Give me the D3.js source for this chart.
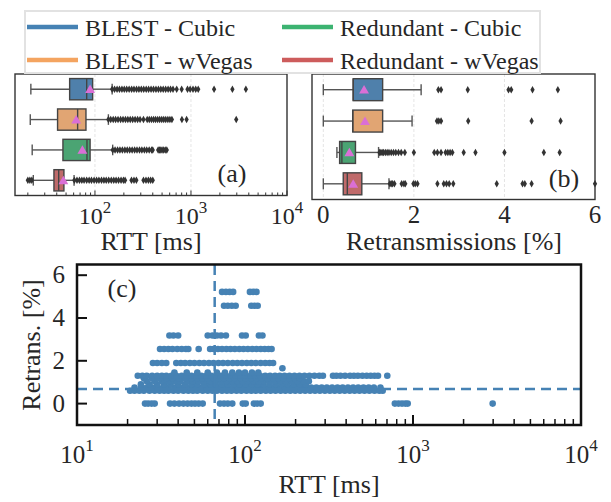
<!DOCTYPE html>
<html>
<head>
<meta charset="utf-8">
<script src="https://cdn.jsdelivr.net/npm/d3@7"></script>
<style>
body{margin:0;background:#fff}
text{font-family:"Liberation Serif","DejaVu Serif",serif;fill:#262626}
</style>
</head>
<body>
<svg id="chart" width="611" height="502"></svg>
<script>
const categories = ["BLEST - Cubic", "BLEST - wVegas", "Redundant - Cubic", "Redundant - wVegas"]
const lineColors = ["#4682b4", "#f4a460", "#3cb371", "#cd5c5c"]
const boxColors = ["#4f80ab", "#e1a573", "#4ba473", "#bf6a6a"]

// (a) RTT [ms]
const rttWhiskerLo = [21.5, 21.2, 22.2, 22.8]
const rttQ1 = [54.5, 40.8, 46.4, 37.4]
const rttMedian = [82, 66, 82.6, 41.9]
const rttQ3 = [94.6, 80.6, 89, 47.5]
const rttWhiskerHi = [151, 138, 153, 60.6]
const rttMean = [89, 63.8, 74, 46.9]
const rttOutliers = [
    [151, 160, 170, 180, 191, 202, 214, 227, 241, 255, 271, 287, 304, 322, 342, 362, 384, 407, 432, 458, 485, 514, 545, 578, 612, 650, 710, 800, 920, 980, 1050, 1120, 1190, 1740, 2700, 3730],
    [138, 146, 155, 164, 174, 185, 196, 208, 220, 233, 247, 262, 278, 295, 320, 350, 368, 388, 408, 428, 450, 472, 496, 520, 546, 574, 603, 633, 805, 900, 2960],
    [153, 162, 172, 182, 193, 205, 217, 230, 244, 259, 274, 291, 308, 327, 346, 367, 389, 400, 455, 470, 485, 500, 520, 540, 560],
    [20, 21, 22, 61, 65, 69, 73, 77, 82, 87, 92, 98, 104, 110, 117, 124, 131, 139, 148, 157, 166, 176, 187, 198, 206, 240, 255, 270, 320, 340, 360, 380, 400]
]
const rttTicks = [100, 1000, 10000]

// (b) Retransmissions [%]
const retransWhiskerLo = [0, 0, 0.30, 0]
const retransQ1 = [0.66, 0.65, 0.36, 0.44]
const retransMedian = [0.66, 0.65, 0.41, 0.53]
const retransQ3 = [1.31, 1.31, 0.71, 0.85]
const retransWhiskerHi = [2.16, 1.96, 1.22, 1.45]
const retransMean = [0.9, 0.92, 0.575, 0.66]
const retransOutliers = [
    [2.54, 2.6, 3.19, 4.09, 4.15, 4.62, 5.18],
    [2.51, 2.55, 2.6, 3.2, 4.6, 5.24],
    [1.24, 1.27, 1.3, 1.33, 1.37, 1.41, 1.45, 1.5, 1.55, 1.6, 1.66, 1.72, 1.8, 2.0, 2.45, 2.52, 2.6, 2.7, 2.75, 2.8, 2.85, 3.1, 3.36, 4.0, 4.87, 5.22],
    [1.47, 1.5, 1.53, 1.57, 1.73, 1.78, 1.81, 1.99, 2.03, 2.08, 2.52, 2.66, 2.72, 2.78, 2.87, 3.83, 4.4, 4.45, 4.6, 6.0]
]
const retransTicks = [0, 2, 4, 6]

// (c) scatter: retransmission level -> RTT values
const scatterLevels = [0, 0.6, 0.75, 0.9, 1.05, 1.18, 1.3, 1.45, 1.65, 1.9, 2.55, 3.18, 4.57, 5.22]
const scatterRtt = [
    [25.4, 26.5, 27.8, 29, 35.8, 38, 40.5, 43, 45.5, 48, 50.4, 53, 56, 71, 75, 79, 84, 97, 101, 113, 118, 124, 780, 820, 860, 900, 930, 2980],
    [20.7, 22, 23.5, 25, 27, 29, 31, 33, 35, 37.5, 40, 43, 46, 49, 52, 56, 60, 64, 68, 73, 78, 83, 89, 95, 102, 109, 116, 124, 133, 142, 152, 163, 174, 186, 199, 213, 228, 244, 261, 279, 299, 320, 342, 366, 392, 420, 449, 480, 514, 550, 590, 630, 660],
    [22, 24, 26, 28, 30, 32.5, 35, 38, 41, 44, 47.5, 51, 55, 59, 63.5, 68, 73, 79, 85, 91, 98, 105, 113, 121, 130, 140, 150, 161, 173, 186, 200, 215, 231, 248, 266, 286, 307, 330, 355, 381, 410, 440, 472, 507, 545, 585, 640],
    [24, 27, 30, 33, 36, 40, 44, 48, 52, 57, 62, 67, 73, 79, 86, 93, 101, 110, 119, 129, 140, 152, 165, 179, 195, 212, 230],
    [26, 29, 32, 35, 38, 41, 45, 49, 53, 57, 62, 67, 72, 78, 84, 90, 97, 104, 112, 120, 129, 139, 150, 162, 175, 190, 205, 222, 240],
    [25, 28, 31, 34, 37, 40.5, 44, 48, 52, 56, 60, 65, 70, 75, 81, 87, 94, 101, 109, 117, 126, 136, 147, 158, 170, 183, 197, 212],
    [23, 24.5, 26, 28, 30, 32, 34, 36.5, 39, 42, 45, 48, 51.5, 55, 59, 63, 67.5, 72, 77, 82.5, 88, 94, 101, 108, 115, 123, 132, 141, 151, 161, 172, 184, 197, 211, 226, 242, 259, 277, 291, 334, 350, 370, 394, 422, 445, 470, 500, 530, 560, 590, 619, 703],
    [38, 45, 52, 60, 68, 76, 84, 92, 100, 110, 120],
    [167],
    [28.3, 30, 32, 34, 39, 41.5, 44, 47, 50, 53.5, 57, 61, 65, 69.5, 74, 79, 84.5, 90, 96, 102.5, 109, 116, 124, 132, 140, 147],
    [31.2, 33, 35, 37, 39.5, 42, 44.5, 46, 53, 62, 65, 69, 73, 77.5, 82, 87, 92.5, 98, 104, 110.5, 117, 124, 131, 138, 144],
    [35.5, 37.5, 40, 60, 64, 68, 72, 77, 96, 101, 121, 127],
    [75, 79, 83.5, 88, 109, 114, 119],
    [73, 77, 81, 85, 107, 112, 117]
]
const scatterRefRtt = 66
const scatterRefRetrans = 0.68
const scatterXTicks = [10, 100, 1000, 10000]
const scatterYTicks = [0, 2, 4, 6]

const svg = d3.select("#chart")

function powLabel(sel, v, size, supSize, dy)
{
    let e = Math.round(Math.log10(v))
    sel.append("tspan").attr("font-size", size).text("10")
    sel.append("tspan").attr("font-size", supSize).attr("dy", dy).text(e)
}

function drawBoxPanel(x, y, lo, q1, med, q3, hi, mean, out)
{
    let g = svg.append("g")
    let h = y.bandwidth() * 0.7
    categories.forEach((c, i) => {
        let cy = y(c) + y.bandwidth() / 2
        g.append("line").attr("x1", x(lo[i])).attr("x2", x(q1[i])).attr("y1", cy).attr("y2", cy)
            .attr("stroke", "#555").attr("stroke-width", 1.4)
        g.append("line").attr("x1", x(q3[i])).attr("x2", x(hi[i])).attr("y1", cy).attr("y2", cy)
            .attr("stroke", "#555").attr("stroke-width", 1.4)
        for (const v of [lo[i], hi[i]]) {
            g.append("line").attr("x1", x(v)).attr("x2", x(v)).attr("y1", cy - h / 4).attr("y2", cy + h / 4)
                .attr("stroke", "#555").attr("stroke-width", 1.4)
        }
        g.append("rect").attr("x", x(q1[i])).attr("y", cy - h / 2)
            .attr("width", x(q3[i]) - x(q1[i])).attr("height", h)
            .attr("fill", boxColors[i]).attr("stroke", "#444").attr("stroke-width", 1.4)
        g.append("line").attr("x1", x(med[i])).attr("x2", x(med[i])).attr("y1", cy - h / 2).attr("y2", cy + h / 2)
            .attr("stroke", "#444").attr("stroke-width", 1.4)
        g.selectAll(null).data(out[i]).join("path")
            .attr("d", d3.symbol(d3.symbolDiamond, 16))
            .attr("transform", d => `translate(${x(d)},${cy})`)
            .attr("fill", "#333")
        g.append("path").attr("d", d3.symbol(d3.symbolTriangle, 42))
            .attr("transform", `translate(${x(mean[i])},${cy + 1})`)
            .attr("fill", "#da6fd6")
    })
}

// panel (a)
const xA = d3.scaleLog().domain([14.7, 10000]).range([15, 287])
const yA = d3.scaleBand().domain(categories).range([74, 195.5])
svg.append("g").selectAll("line").data(rttTicks.slice(0, 2)).join("line")
    .attr("x1", d => xA(d)).attr("x2", d => xA(d)).attr("y1", 74).attr("y2", 195.5)
    .attr("stroke", "#ddd").attr("stroke-width", 0.8).attr("stroke-dasharray", "3,2")
drawBoxPanel(xA, yA, rttWhiskerLo, rttQ1, rttMedian, rttQ3, rttWhiskerHi, rttMean, rttOutliers)
svg.append("g").selectAll("line").data(xA.ticks()).join("line")
    .attr("x1", d => xA(d)).attr("x2", d => xA(d))
    .attr("y1", 195.5).attr("y2", d => rttTicks.includes(d) ? 190.5 : 192.5)
    .attr("stroke", "#333").attr("stroke-width", 1)
svg.append("rect").attr("x", 15).attr("y", 74).attr("width", 272).attr("height", 121.5)
    .attr("fill", "none").attr("stroke", "#333").attr("stroke-width", 1.4)
svg.append("g").selectAll("text").data(rttTicks).join("text")
    .attr("x", d => xA(d)).attr("y", 224).attr("text-anchor", "middle")
    .each(function (d) { powLabel(d3.select(this), d, 24, 17, -11) })
svg.append("text").attr("x", 151).attr("y", 250).attr("text-anchor", "middle")
    .attr("font-size", 26).text("RTT [ms]")
svg.append("text").attr("x", 232).attr("y", 182).attr("text-anchor", "middle")
    .attr("font-size", 26).text("(a)")

// panel (b)
const xB = d3.scaleLinear().domain([-0.25, 6]).range([312, 595])
const yB = d3.scaleBand().domain(categories).range([74, 199.5])
svg.append("g").selectAll("line").data(retransTicks.slice(0, 3)).join("line")
    .attr("x1", d => xB(d)).attr("x2", d => xB(d)).attr("y1", 74).attr("y2", 199.5)
    .attr("stroke", "#ddd").attr("stroke-width", 0.8).attr("stroke-dasharray", "3,2")
drawBoxPanel(xB, yB, retransWhiskerLo, retransQ1, retransMedian, retransQ3, retransWhiskerHi, retransMean, retransOutliers)
svg.append("rect").attr("x", 312).attr("y", 74).attr("width", 283).attr("height", 125.5)
    .attr("fill", "none").attr("stroke", "#333").attr("stroke-width", 1.4)
svg.append("g").selectAll("text").data(retransTicks).join("text")
    .attr("x", d => xB(d)).attr("y", 223).attr("text-anchor", "middle")
    .attr("font-size", 25).text(d => d)
svg.append("text").attr("x", 454).attr("y", 250).attr("text-anchor", "middle")
    .attr("font-size", 26).text("Retransmissions [%]")
svg.append("text").attr("x", 564).attr("y", 187).attr("text-anchor", "middle")
    .attr("font-size", 26).text("(b)")

// panel (c)
const xC = d3.scaleLog().domain([10, 10000]).range([77, 581])
const yC = d3.scaleLinear().domain([-1, 6.5]).range([425, 264.5])
const pts = []
scatterLevels.forEach((lv, i) => {
    for (const r of scatterRtt[i]) pts.push([r, lv])
})
const gC = svg.append("g")
gC.selectAll("circle").data(pts).join("circle")
    .attr("cx", d => xC(d[0])).attr("cy", d => yC(d[1])).attr("r", 3.3)
    .attr("fill", "#4682b4")
gC.append("line").attr("x1", xC(scatterRefRtt)).attr("x2", xC(scatterRefRtt)).attr("y1", 265).attr("y2", 425)
    .attr("stroke", "#4682b4").attr("stroke-width", 2.5).attr("stroke-dasharray", "10,6")
gC.append("line").attr("x1", 77).attr("x2", 581).attr("y1", yC(scatterRefRetrans)).attr("y2", yC(scatterRefRetrans))
    .attr("stroke", "#4682b4").attr("stroke-width", 2.5).attr("stroke-dasharray", "10,6")
gC.selectAll(".xt").data(xC.ticks()).join("line")
    .attr("x1", d => xC(d)).attr("x2", d => xC(d))
    .attr("y1", 425).attr("y2", d => scatterXTicks.includes(d) ? 415 : 419)
    .attr("stroke", "#111").attr("stroke-width", d => scatterXTicks.includes(d) ? 2 : 1.5)
gC.selectAll(".yt").data(scatterYTicks).join("line")
    .attr("x1", 77).attr("x2", 87).attr("y1", d => yC(d)).attr("y2", d => yC(d))
    .attr("stroke", "#111").attr("stroke-width", 2)
svg.append("rect").attr("x", 77).attr("y", 264.5).attr("width", 504).attr("height", 160.5)
    .attr("fill", "none").attr("stroke", "#111").attr("stroke-width", 2.5)
svg.append("g").selectAll("text").data(scatterXTicks).join("text")
    .attr("x", d => xC(d)).attr("y", 463).attr("text-anchor", "middle")
    .each(function (d) { powLabel(d3.select(this), d, 25, 17, -12) })
svg.append("g").selectAll("text").data(scatterYTicks).join("text")
    .attr("x", 65).attr("y", d => yC(d) + 8).attr("text-anchor", "end")
    .attr("font-size", 25).text(d => d)
svg.append("text").attr("x", 329).attr("y", 493).attr("text-anchor", "middle")
    .attr("font-size", 26).text("RTT [ms]")
svg.append("text").attr("transform", "translate(40,345) rotate(-90)").attr("text-anchor", "middle")
    .attr("font-size", 26).text("Retrans. [%]")
svg.append("text").attr("x", 122).attr("y", 297).attr("text-anchor", "middle")
    .attr("font-size", 26).text("(c)")

// legend
const leg = svg.append("g")
leg.append("rect").attr("x", 25).attr("y", 11).attr("width", 515).attr("height", 62)
    .attr("fill", "#fff").attr("stroke", "#e2e2e2").attr("stroke-width", 2)
categories.forEach((c, i) => {
    let col = Math.floor(i / 2), row = i % 2
    let lx = col === 0 ? 27 : 282
    let ly = row === 0 ? 27 : 60
    leg.append("line").attr("x1", lx).attr("x2", lx + 51).attr("y1", ly).attr("y2", ly)
        .attr("stroke", lineColors[i]).attr("stroke-width", 4.5)
    leg.append("text").attr("x", lx + 58).attr("y", ly + 8.5).attr("font-size", 24).text(c)
})
</script>
</body>
</html>
